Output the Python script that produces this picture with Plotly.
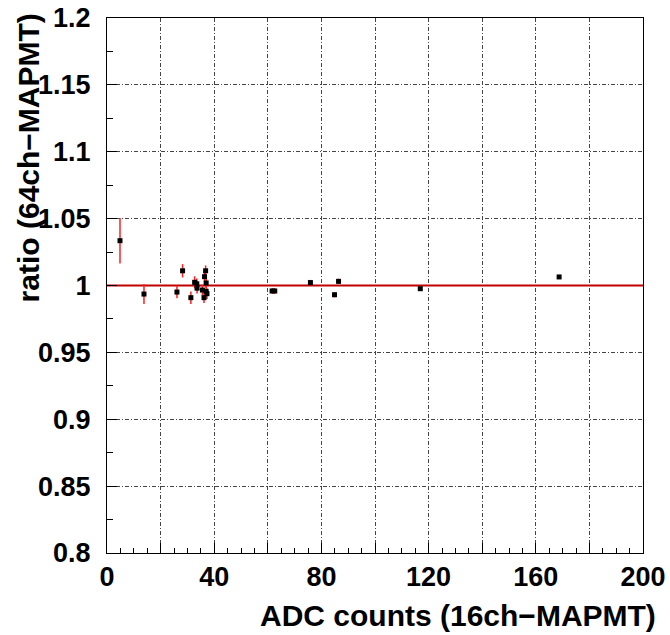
import plotly.graph_objects as go

adc_16ch = [4.85, 13.8, 26.1, 28.2, 31.3, 32.7, 33.5, 33.6, 35.6, 36.2, 36.4, 36.8, 37.0, 37.0, 37.3,
            61.6, 62.6, 75.9, 84.9, 86.4, 116.9, 168.7]
ratio = [1.0335, 0.9936, 0.9951, 1.011, 0.9909, 1.0024, 1.0013, 0.998, 0.9966, 0.9909, 1.0066, 1.011,
         1.0019, 0.9956, 0.9939, 0.9959, 0.9959, 1.0022, 0.9931, 1.0031, 0.9976, 1.0064]
ratio_err = [0.017, 0.0075, 0.0047, 0.005, 0.0047, 0.0045, 0.004, 0.004, 0.004, 0.004, 0.004, 0.004,
             0.004, 0.004, 0.004, 0.002, 0.002, 0.002, 0.002, 0.002, 0.0012, 0.0005]

x_grid_vals = [0, 20, 40, 60, 80, 100, 120, 140, 160, 180, 200]
x_grid_text = ["0", "", "40", "", "80", "", "120", "", "160", "", "200"]
y_tick_vals = [0.8, 0.85, 0.9, 0.95, 1.0, 1.05, 1.1, 1.15, 1.2]
y_tick_text = ["0.8", "0.85", "0.9", "0.95", "1", "1.05", "1.1", "1.15", "1.2"]
ref_x = [0, 200]
ref_y = [1, 1]

fig = go.Figure()
fig.add_trace(go.Scatter(x=ref_x, y=ref_y, mode="lines",
                         line=dict(color="#c00000", width=2), showlegend=False, hoverinfo="skip"))
fig.add_trace(go.Scatter(
    x=adc_16ch, y=ratio, mode="markers",
    marker=dict(symbol="square", size=5, color="black"),
    error_y=dict(type="data", array=ratio_err, color="#ff2020", thickness=1.5, width=0),
    showlegend=False))

font_family = "Liberation Sans, Arial, sans-serif"
bold = lambda s: f"<b>{s}</b>" if s else ""
fig.update_layout(
    width=670, height=635,
    margin=dict(l=107, r=27, t=18, b=82),
    paper_bgcolor="white", plot_bgcolor="white",
    font=dict(family=font_family, color="black"),
    xaxis=dict(range=[0, 200], tickvals=x_grid_vals, ticktext=[bold(t) for t in x_grid_text],
               automargin=False, ticklabelstandoff=0,
               ticks="inside", ticklen=10, tickcolor="black", tickwidth=1,
               minor=dict(dtick=5, tick0=0, ticks="inside", ticklen=5, tickcolor="black", showgrid=False),
               showgrid=True, gridcolor="#444", gridwidth=1, griddash="4px,2px,1px,2px",
               showline=True, linecolor="black", linewidth=1, mirror=True, zeroline=False,
               tickfont=dict(size=27, family=font_family)),
    yaxis=dict(range=[0.8, 1.2], tickvals=y_tick_vals, ticktext=[bold(t) for t in y_tick_text],
               automargin=False, ticklabelstandoff=10,
               ticks="inside", ticklen=10, tickcolor="black", tickwidth=1,
               minor=dict(dtick=0.025, tick0=0.8, ticks="inside", ticklen=6, tickcolor="black", showgrid=False),
               showgrid=True, gridcolor="#444", gridwidth=1, griddash="4px,2px,1px,2px",
               showline=True, linecolor="black", linewidth=1, mirror=True, zeroline=False,
               tickfont=dict(size=27, family=font_family)),
    annotations=[
        dict(text="<b>ADC counts (16ch\u2212MAPMT)</b>", xref="paper", yref="paper", x=1.028, y=-0.116,
             xanchor="right", yanchor="middle", showarrow=False,
             font=dict(size=30, family=font_family)),
        dict(text="<b>ratio (64ch\u2212MAPMT)</b>", xref="paper", yref="paper", x=-0.147, y=0.738,
             xanchor="center", yanchor="middle", textangle=-90, showarrow=False,
             font=dict(size=30, family=font_family)),
    ],
)

fig.write_html("out.html")
